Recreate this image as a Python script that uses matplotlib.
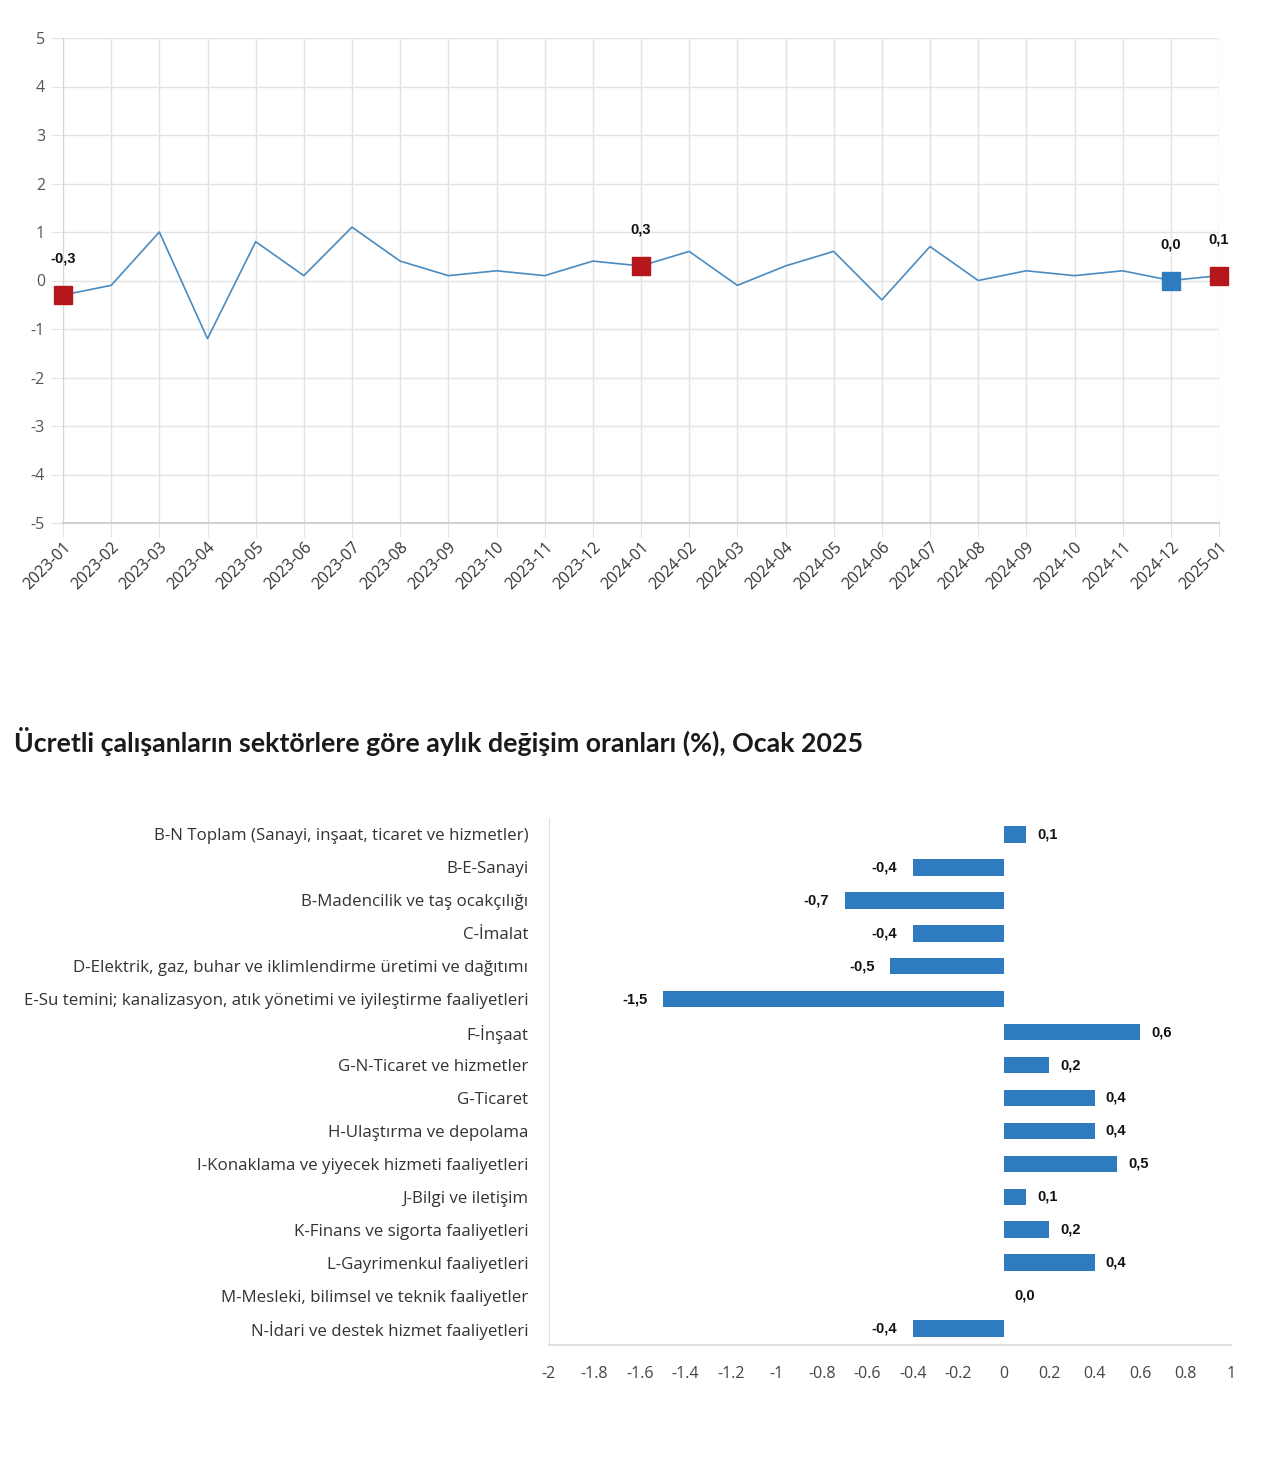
import matplotlib
matplotlib.use("Agg")
import matplotlib.pyplot as plt
from matplotlib.ticker import FixedLocator, FuncFormatter

# ---------------- data ----------------
months = ["2023-01", "2023-02", "2023-03", "2023-04", "2023-05", "2023-06", "2023-07",
          "2023-08", "2023-09", "2023-10", "2023-11", "2023-12", "2024-01", "2024-02",
          "2024-03", "2024-04", "2024-05", "2024-06", "2024-07", "2024-08", "2024-09",
          "2024-10", "2024-11", "2024-12", "2025-01"]
monthly_change = [-0.3, -0.1, 1.0, -1.2, 0.8, 0.1, 1.1, 0.4, 0.1, 0.2, 0.1, 0.4, 0.3,
                  0.6, -0.1, 0.3, 0.6, -0.4, 0.7, 0.0, 0.2, 0.1, 0.2, 0.0, 0.1]
red_points = ["2023-01", "2024-01", "2025-01"]
blue_points = ["2024-12"]

sectors = ["B-N Toplam (Sanayi, inşaat, ticaret ve hizmetler)",
           "B-E-Sanayi",
           "B-Madencilik ve taş ocakçılığı",
           "C-İmalat",
           "D-Elektrik, gaz, buhar ve iklimlendirme üretimi ve dağıtımı",
           "E-Su temini; kanalizasyon, atık yönetimi ve iyileştirme faaliyetleri",
           "F-İnşaat",
           "G-N-Ticaret ve hizmetler",
           "G-Ticaret",
           "H-Ulaştırma ve depolama",
           "I-Konaklama ve yiyecek hizmeti faaliyetleri",
           "J-Bilgi ve iletişim",
           "K-Finans ve sigorta faaliyetleri",
           "L-Gayrimenkul faaliyetleri",
           "M-Mesleki, bilimsel ve teknik faaliyetler",
           "N-İdari ve destek hizmet faaliyetleri"]
sector_change = [0.1, -0.4, -0.7, -0.4, -0.5, -1.5, 0.6, 0.2, 0.4, 0.4, 0.5, 0.1, 0.2,
                 0.4, 0.0, -0.4]
bar_ticks = [-2, -1.8, -1.6, -1.4, -1.2, -1, -0.8, -0.6, -0.4, -0.2, 0, 0.2, 0.4, 0.6,
             0.8, 1]
title = "Ücretli çalışanların sektörlere göre aylık değişim oranları (%), Ocak 2025"

# ---------------- style ----------------
plt.rcParams['font.family'] = ['Open Sans', 'DejaVu Sans']
W, H = 1280, 1460
fig = plt.figure(figsize=(W / 100, H / 100), dpi=100)
fig.patch.set_facecolor("white")

def fx(px):
    return px / W

def fy(py):
    return 1 - py / H

line_color = "#4a8bc0"
red = "#b5171c"
blue = "#2f7bbf"
grid_c = "#e3e3e3"
lab_font = ["Liberation Sans", "DejaVu Sans"]

# ---------------- line chart ----------------
ax1 = fig.add_axes([fx(63), fy(523), fx(1219) - fx(63), fy(38) - fy(523)])
x = list(range(len(months)))
ax1.plot(x, monthly_change, color=line_color, lw=1.2, zorder=3)
for m in red_points + blue_points:
    i = months.index(m)
    c = red if m in red_points else blue
    ax1.plot([x[i]], [monthly_change[i]], marker="s", ms=13, color=c, mec=c, zorder=5,
             clip_on=False, ls="none")
    ax1.annotate(f"{monthly_change[i]:.1f}".replace(".", ","), (x[i], monthly_change[i]),
                 xytext=(0, 26), textcoords="offset points", ha="center", va="center",
                 fontsize=10.5, fontweight="bold", color="#111111", family=lab_font)
ax1.set_xlim(0, len(months) - 1)
ax1.set_ylim(-5, 5)
ax1.set_yticks(range(-5, 6))
ax1.set_yticklabels([str(v) for v in range(-5, 6)])
ax1.set_xticks(x)
ax1.set_xticklabels(months, rotation=45, ha="right", rotation_mode="anchor")
ax1.grid(True, color=grid_c, lw=1)
ax1.set_axisbelow(True)
for s in ["top", "right"]:
    ax1.spines[s].set_visible(False)
ax1.spines["left"].set_color("#d6d6d6")
ax1.spines["bottom"].set_color("#d0d0d0")
ax1.spines["bottom"].set_linewidth(1.5)
ax1.tick_params(axis="y", length=9, color=grid_c, labelsize=11.5, labelcolor="#555555", pad=4)
ax1.tick_params(axis="x", length=10, color=grid_c, labelsize=11.5, labelcolor="#333333", pad=2)

# ---------------- title ----------------
fig.text(fx(14), fy(741), title, fontsize=19.3, fontweight="bold", color="#1a1a1a",
         ha="left", va="center", family=["Lato", "DejaVu Sans"])

# ---------------- bar chart ----------------
ax2 = fig.add_axes([fx(549), fy(1345), fx(1231) - fx(549), fy(818) - fy(1345)])
yb = list(range(len(sectors)))
ax2.barh(yb, sector_change, height=0.5, color=blue, zorder=3)
for yi, v in zip(yb, sector_change):
    lab = f"{v:.1f}".replace(".", ",")
    if v < 0:
        ax2.annotate(lab, (v, yi), xytext=(-11, 0), textcoords="offset points",
                     ha="right", va="center", fontsize=10.5, fontweight="bold",
                     color="#111111", family=lab_font)
    else:
        ax2.annotate(lab, (v, yi), xytext=(8, 0), textcoords="offset points",
                     ha="left", va="center", fontsize=10.5, fontweight="bold",
                     color="#111111", family=lab_font)
ax2.set_ylim(len(sectors) - 0.5, -0.5)
ax2.set_xlim(-2, 1)
ax2.set_yticks(yb)
ax2.set_yticklabels(sectors)
ax2.xaxis.set_major_locator(FixedLocator(bar_ticks))
ax2.xaxis.set_major_formatter(FuncFormatter(lambda v, p: f"{v:g}"))
for s in ["top", "right"]:
    ax2.spines[s].set_visible(False)
ax2.spines["left"].set_color("#e0e0e0")
ax2.spines["bottom"].set_color("#e0e0e0")
ax2.spines["bottom"].set_linewidth(1.5)
ax2.tick_params(axis="y", length=0, labelsize=12.2, labelcolor="#333333", pad=15)
ax2.tick_params(axis="x", length=0, labelsize=11.5, labelcolor="#444444", pad=15)

fig.savefig("out.png", dpi=100, facecolor="white")
